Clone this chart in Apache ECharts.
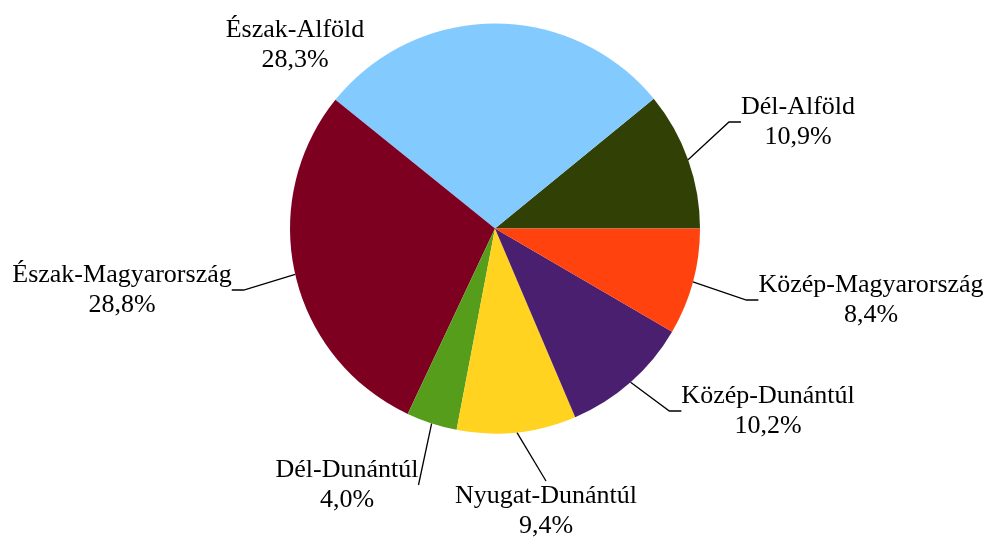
<!DOCTYPE html>
<html>
<head>
<meta charset="utf-8">
<script src="https://cdn.jsdelivr.net/npm/echarts@6/dist/echarts.min.js"></script>
<style>
  html, body { margin: 0; padding: 0; background: #fff; }
  #chart { width: 991px; height: 539px; }
</style>
</head>
<body>
<div id="chart"></div>
<script>
// regions, counterclockwise from 3 o'clock
const regions = ['Dél-Alföld', 'Észak-Alföld', 'Észak-Magyarország', 'Dél-Dunántúl',
                 'Nyugat-Dunántúl', 'Közép-Dunántúl', 'Közép-Magyarország']
const shares = [10.9, 28.3, 28.8, 4.0, 9.4, 10.2, 8.4]
const colors = ['#314004', '#83caff', '#7e0021', '#579d1c', '#ffd320', '#4b1f6f', '#ff420e']

// label centres (layout only)
const labelPos = [
  [798, 122], [295, 45], [122, 290], [347, 485], [546, 511], [768, 411], [871, 300]
]
// labels hooked straight to the slice, no horizontal tail
const noTail = ['Dél-Dunántúl', 'Nyugat-Dunántúl']

const chart = echarts.init(document.getElementById('chart'))

const data = regions.map((name, i) => ({
  name: name,
  value: shares[i],
  itemStyle: { color: colors[i] },
  labelLine: {
    show: name !== 'Észak-Alföld',
    length2: noTail.includes(name) ? 0 : 12
  }
}))

chart.setOption({
  animation: false,
  backgroundColor: '#fff',
  series: [{
    type: 'pie',
    center: [495, 228.5],
    radius: 205,
    startAngle: 0,
    clockwise: false,
    avoidLabelOverlap: false,
    itemStyle: { borderWidth: 0 },
    label: {
      show: true,
      position: 'outside',
      color: '#000',
      fontFamily: 'Liberation Serif',
      fontSize: 26,
      lineHeight: 30,
      formatter: p => '{a|' + p.name + '}\n{a|' + p.value.toFixed(1).replace('.', ',') + '%}',
      rich: {
        a: { align: 'center', fontFamily: 'Liberation Serif', fontSize: 26, lineHeight: 30, color: '#000' }
      }
    },
    labelLine: {
      show: true,
      length: 15,
      length2: 12,
      lineStyle: { color: '#000', width: 1.3 }
    },
    labelLayout: p => ({
      x: labelPos[p.dataIndex][0],
      y: labelPos[p.dataIndex][1],
      align: 'center',
      verticalAlign: 'middle'
    }),
    emphasis: { disabled: true },
    data: data
  }]
})
</script>
</body>
</html>
